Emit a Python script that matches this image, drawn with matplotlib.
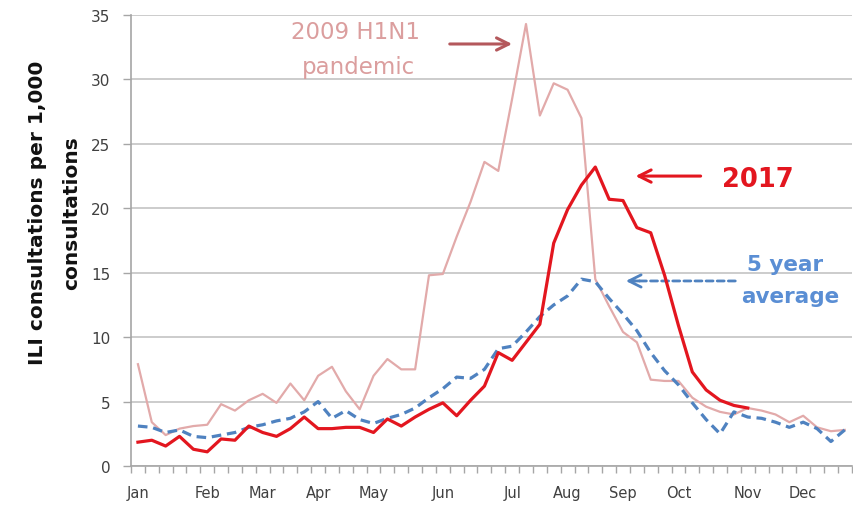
import matplotlib
matplotlib.use("Agg")
import matplotlib.pyplot as plt
import numpy as np

# ---------------- data ----------------
weeks = np.arange(52)
month_labels = ["Jan", "Feb", "Mar", "Apr", "May", "Jun",
                "Jul", "Aug", "Sep", "Oct", "Nov", "Dec"]
month_weeks = [0, 5, 9, 13, 17, 22, 27, 31, 35, 39, 44, 48]

pandemic_2009 = [7.9, 3.4, 2.4, 2.9, 3.1, 3.2, 4.8, 4.3, 5.1, 5.6,
                 4.9, 6.4, 5.1, 7.0, 7.7, 5.8, 4.4, 7.0, 8.3, 7.5,
                 7.5, 14.8, 14.9, 17.8, 20.5, 23.6, 22.9, 28.5, 34.3, 27.2,
                 29.7, 29.2, 27.0, 14.5, 12.4, 10.4, 9.6, 6.7, 6.6, 6.6,
                 5.3, 4.6, 4.2, 4.0, 4.5, 4.3, 4.0, 3.4, 3.9, 3.0,
                 2.7, 2.8]

year_2017 = [1.85, 2.0, 1.55, 2.3, 1.3, 1.1, 2.1, 2.0, 3.1, 2.6,
             2.3, 2.9, 3.8, 2.9, 2.9, 3.0, 3.0, 2.6, 3.65, 3.1,
             3.8, 4.4, 4.9, 3.9, 5.1, 6.2, 8.8, 8.2, 9.6, 11.0,
             17.3, 19.9, 21.8, 23.2, 20.7, 20.6, 18.5, 18.1, 14.8, 10.9,
             7.3, 5.9, 5.1, 4.7, 4.5]

five_year_avg = [3.1, 3.0, 2.6, 2.8, 2.3, 2.2, 2.4, 2.6, 3.0, 3.2,
                 3.5, 3.7, 4.2, 5.0, 3.7, 4.3, 3.6, 3.3, 3.7, 4.0,
                 4.5, 5.3, 6.0, 6.9, 6.8, 7.5, 9.1, 9.3, 10.4, 11.6,
                 12.5, 13.2, 14.5, 14.3, 13.0, 11.8, 10.5, 8.8, 7.4, 6.3,
                 4.9, 3.6, 2.5, 4.2, 3.8, 3.7, 3.4, 3.0, 3.4, 2.9,
                 1.9, 2.8]

y_ticks = [0, 5, 10, 15, 20, 25, 30, 35]

# ---------------- colours ----------------
c_pink = "#E2AAAA"
c_pink_txt = "#DB9E9E"
c_pink_arrow = "#B4585C"
c_red = "#E3161F"
c_blue = "#4F82C0"
c_blue_txt = "#5A8ED4"
c_grid = "#C4C4C4"
c_axis = "#A6A6A6"
c_tick = "#404040"

plt.rcParams['font.family'] = ['DejaVu Sans']

fig = plt.figure(figsize=(8.54, 5.06), dpi=100)
ax = fig.add_axes([131 / 854, 39 / 506, (851.7 - 131) / 854, (467 - 16) / 506])

ax.plot(weeks, pandemic_2009, color=c_pink, lw=1.6, zorder=3)
ax.plot(weeks[:len(five_year_avg)], five_year_avg, color=c_blue, lw=2.3,
        linestyle=(0, (3, 1.8)), zorder=4)
ax.plot(weeks[:len(year_2017)], year_2017, color=c_red, lw=2.3, zorder=5)

ax.set_xlim(-0.5, 51.5)
ax.set_ylim(0, 35)

ax.set_yticks(y_ticks)
ax.set_yticklabels([str(v) for v in y_ticks])
ax.yaxis.grid(True, color=c_grid, lw=1.2)
ax.set_axisbelow(True)
ax.tick_params(axis='y', direction='out', length=6, width=1, color=c_axis,
               labelsize=11, labelcolor=c_tick, pad=9)

ax.set_xticks(month_weeks)
ax.set_xticklabels(month_labels)
ax.set_xticks(np.arange(-0.5, 52, 1), minor=True)
ax.tick_params(axis='x', which='major', length=0, labelsize=10.5,
               labelcolor=c_tick, pad=14)
ax.tick_params(axis='x', which='minor', direction='out', length=5, width=1,
               color=c_axis)

for s in ['top', 'right']:
    ax.spines[s].set_visible(False)
for s in ['left', 'bottom']:
    ax.spines[s].set_color(c_axis)
    ax.spines[s].set_linewidth(1.2)

# y label (two lines)
fig.text(38 / 854, 0.579, "ILI consultations per 1,000", rotation=90,
         ha='center', va='center', fontsize=14.5, fontweight='bold', color='#111111')
fig.text(72 / 854, 0.579, "consultations", rotation=90,
         ha='center', va='center', fontsize=14.5, fontweight='bold', color='#111111')

# annotations
ax.text(15.7, 33.75, "2009 H1N1", ha='center', va='center', fontsize=16.5,
        color=c_pink_txt)
ax.text(15.9, 31.0, "pandemic", ha='center', va='center', fontsize=16.5,
        color=c_pink_txt)
ax.annotate("", xy=(27.0, 32.75), xytext=(22.5, 32.75),
            arrowprops=dict(arrowstyle='->', color=c_pink_arrow, lw=2.2,
                            mutation_scale=22, shrinkA=0, shrinkB=0))

ax.text(44.7, 22.3, "2017", ha='center', va='center', fontsize=18.5,
        fontweight='bold', color=c_red)
ax.annotate("", xy=(35.9, 22.5), xytext=(40.6, 22.5),
            arrowprops=dict(arrowstyle='->', color=c_red, lw=2.2,
                            mutation_scale=22, shrinkA=0, shrinkB=0))

ax.text(46.7, 15.7, "5 year", ha='center', va='center', fontsize=15.5,
        fontweight='bold', color=c_blue_txt)
ax.text(47.05, 13.2, "average", ha='center', va='center', fontsize=15.5,
        fontweight='bold', color=c_blue_txt)
# dashed shaft
ax.annotate("", xy=(35.5, 14.36), xytext=(43.1, 14.36),
            arrowprops=dict(arrowstyle='-', color=c_blue, lw=2.0,
                            linestyle=(0, (2.5, 1.5)),
                            shrinkA=0, shrinkB=0))
# solid head
ax.annotate("", xy=(35.2, 14.36), xytext=(36.2, 14.36),
            arrowprops=dict(arrowstyle='->', color=c_blue, lw=2.0,
                            mutation_scale=22, shrinkA=0, shrinkB=0))

fig.savefig("out.png", dpi=100)
